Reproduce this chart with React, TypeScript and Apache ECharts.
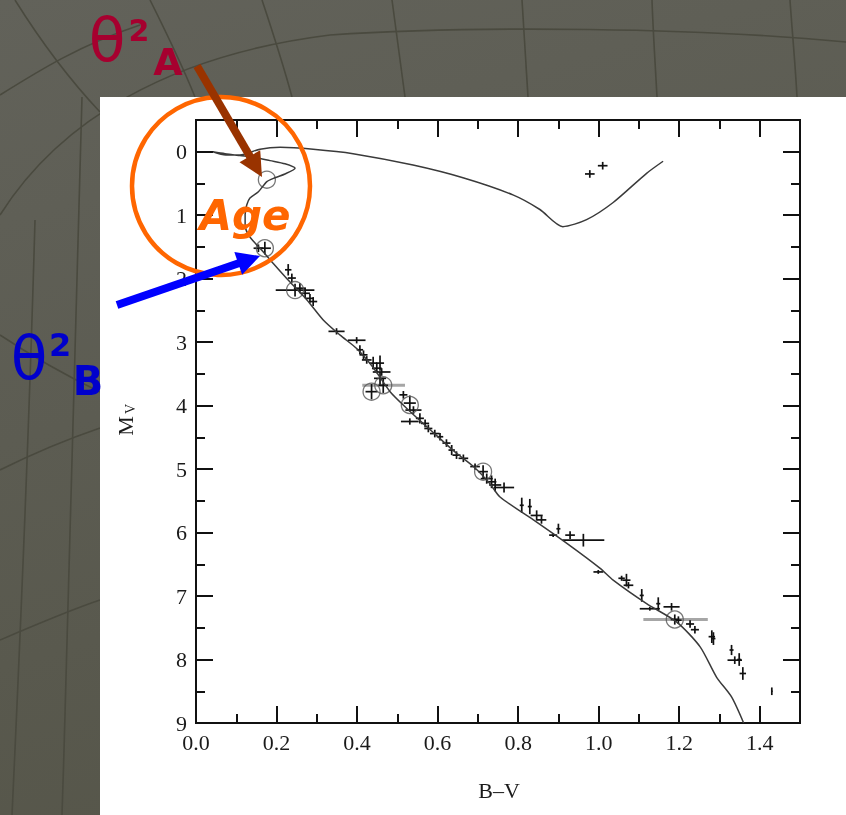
import React, { useEffect, useRef } from 'react';
import * as echarts from 'echarts';

// ---- axis ticks ----
const xMajorTicks = [0, 0.2, 0.4, 0.6, 0.8, 1.0, 1.2, 1.4];
const xMinorTicks = [0.1, 0.3, 0.5, 0.7, 0.9, 1.1, 1.3];
const yMajorTicks = [0, 1, 2, 3, 4, 5, 6, 7, 8, 9];
const yMinorTicks = [0.5, 1.5, 2.5, 3.5, 4.5, 5.5, 6.5, 7.5, 8.5];

// ---- isochrone (B-V, M_V) ----
const isoBV = [1.36, 1.33, 1.293, 1.252, 1.194, 1.119, 1.036, 1.003, 0.921, 0.838, 0.755, 0.73, 0.689, 0.647, 0.606, 0.564, 0.523, 0.482, 0.44, 0.399, 0.358, 0.316, 0.275, 0.233, 0.192, 0.159, 0.151, 0.13, 0.122, 0.122, 0.126, 0.134, 0.155, 0.176, 0.196, 0.221, 0.246, 0.221, 0.184, 0.147, 0.109, 0.072, 0.042, 0.074, 0.109, 0.159, 0.209, 0.291, 0.39, 0.539, 0.663, 0.787, 0.854, 0.911, 0.97, 1.036, 1.119, 1.16];
const isoMV = [9.0, 8.59, 8.28, 7.8, 7.41, 7.12, 6.75, 6.56, 6.17, 5.8, 5.44, 5.23, 4.96, 4.75, 4.52, 4.28, 4.04, 3.78, 3.4, 3.1, 2.89, 2.65, 2.33, 2.05, 1.76, 1.52, 1.47, 1.31, 1.15, 0.99, 0.84, 0.73, 0.63, 0.47, 0.41, 0.35, 0.26, 0.19, 0.14, 0.09, 0.06, 0.03, 0.0, 0.05, 0.05, -0.04, -0.07, -0.04, 0.03, 0.21, 0.41, 0.68, 0.91, 1.18, 1.07, 0.8, 0.34, 0.15];

// ---- stars with error bars ----
const starBV = [0.978, 1.01, 0.155, 0.171, 0.229, 0.238, 0.246, 0.258, 0.271, 0.283, 0.291, 0.349, 0.399, 0.407, 0.416, 0.424, 0.44, 0.457, 0.449, 0.461, 0.457, 0.436, 0.465, 0.515, 0.531, 0.54, 0.531, 0.556, 0.569, 0.577, 0.593, 0.606, 0.622, 0.635, 0.647, 0.664, 0.693, 0.713, 0.722, 0.734, 0.743, 0.765, 0.809, 0.829, 0.846, 0.858, 0.887, 0.9, 0.929, 0.962, 0.999, 1.057, 1.069, 1.074, 1.107, 1.127, 1.148, 1.181, 1.189, 1.198, 1.227, 1.239, 1.281, 1.285, 1.33, 1.338, 1.349, 1.358, 1.43];
const starMV = [0.35, 0.22, 1.52, 1.52, 1.86, 1.99, 2.18, 2.15, 2.23, 2.31, 2.36, 2.83, 2.97, 3.12, 3.2, 3.28, 3.33, 3.33, 3.41, 3.47, 3.57, 3.78, 3.68, 3.83, 3.96, 4.07, 4.25, 4.2, 4.28, 4.36, 4.44, 4.49, 4.59, 4.7, 4.78, 4.83, 4.96, 5.04, 5.15, 5.2, 5.25, 5.29, 5.57, 5.59, 5.73, 5.8, 6.04, 5.94, 6.04, 6.12, 6.62, 6.72, 6.75, 6.83, 6.99, 7.2, 7.12, 7.17, 7.37, 7.38, 7.44, 7.53, 7.64, 7.67, 7.85, 8.01, 8.0, 8.22, 8.5];
const starBVErr = [0.012, 0.012, 0.012, 0.015, 0.008, 0.01, 0.048, 0.015, 0.012, 0.01, 0.01, 0.02, 0.022, 0.008, 0.01, 0.012, 0.01, 0.01, 0.012, 0.022, 0.015, 0.015, 0.012, 0.01, 0.015, 0.02, 0.022, 0.01, 0.01, 0.01, 0.012, 0.008, 0.01, 0.008, 0.01, 0.012, 0.012, 0.012, 0.015, 0.012, 0.015, 0.025, 0.005, 0.005, 0.015, 0.012, 0.01, 0.005, 0.012, 0.052, 0.012, 0.008, 0.01, 0.012, 0.005, 0.025, 0.005, 0.02, 0.01, 0.008, 0.01, 0.01, 0.008, 0.005, 0.005, 0.018, 0.005, 0.008, 0.002];
const starMVErr = [0.06, 0.06, 0.06, 0.1, 0.09, 0.07, 0.1, 0.08, 0.08, 0.07, 0.07, 0.05, 0.05, 0.07, 0.07, 0.06, 0.1, 0.12, 0.08, 0.06, 0.1, 0.12, 0.12, 0.06, 0.12, 0.06, 0.05, 0.08, 0.06, 0.06, 0.06, 0.06, 0.06, 0.08, 0.06, 0.06, 0.05, 0.1, 0.08, 0.1, 0.1, 0.08, 0.12, 0.12, 0.08, 0.06, 0.03, 0.08, 0.06, 0.1, 0.03, 0.04, 0.1, 0.05, 0.1, 0.03, 0.1, 0.06, 0.08, 0.06, 0.06, 0.06, 0.1, 0.1, 0.08, 0.06, 0.1, 0.1, 0.06];

// ---- binary components (open circles) ----
const circleBV = [0.176, 0.171, 0.246, 0.436, 0.465, 0.531, 0.713, 1.189];
const circleMV = [0.44, 1.52, 2.18, 3.78, 3.68, 3.99, 5.04, 7.37];

// ---- grey error bars ----
const grayBV = [0.466, 1.191];
const grayMV = [3.68, 7.37];
const grayBVErr = [0.053, 0.08];

const SERIF = '"Liberation Serif", "Times New Roman", serif';
const SANS = '"DejaVu Sans", Verdana, sans-serif';

function arrow(x1: number, y1: number, x2: number, y2: number, w: number, hl: number, hw: number, color: string) {
  const dx = x2 - x1, dy = y2 - y1;
  const L = Math.hypot(dx, dy);
  const ux = dx / L, uy = dy / L, px = -uy, py = ux;
  const bx = x2 - ux * hl, by = y2 - uy * hl;
  return [
    { type: 'line', z: 100, shape: { x1, y1, x2: bx + ux * 2, y2: by + uy * 2 }, style: { stroke: color, lineWidth: w } },
    { type: 'polygon', z: 100, shape: { points: [[x2, y2], [bx + px * hw, by + py * hw], [bx - px * hw, by - py * hw]] }, style: { fill: color } },
  ];
}

function bez(x1: number, y1: number, c1x: number, c1y: number, c2x: number, c2y: number, x2: number, y2: number) {
  return {
    type: 'bezierCurve', z: -90, silent: true,
    shape: { x1, y1, cpx1: c1x, cpy1: c1y, cpx2: c2x, cpy2: c2y, x2, y2 },
    style: { stroke: '#4a4a3f', lineWidth: 1.6, fill: 'none' },
  };
}

export default function App() {
  const ref = useRef<HTMLDivElement>(null);
  useEffect(() => {
    if (!ref.current) return;
    const chart = echarts.init(ref.current, undefined, { renderer: 'svg' });

    const tickStyle = { color: '#111', width: 2 };
    const mkX = (pos: string, ticks: number[], len: number, labels: boolean) => ({
      type: 'value', min: 0, max: 1.5, position: pos, gridIndex: 0,
      axisLine: { show: true, onZero: false, lineStyle: tickStyle },
      axisTick: { show: true, inside: true, length: len, customValues: ticks, lineStyle: tickStyle },
      axisLabel: {
        show: labels, customValues: xMajorTicks, formatter: (v: number) => v.toFixed(1),
        fontFamily: SERIF, fontSize: 22, color: '#1a1a1a', margin: 8,
      },
      splitLine: { show: false },
    });
    const mkY = (pos: string, ticks: number[], len: number, labels: boolean) => ({
      type: 'value', min: -0.5, max: 9, inverse: true, position: pos, gridIndex: 0,
      axisLine: { show: true, onZero: false, lineStyle: tickStyle },
      axisTick: { show: true, inside: true, length: len, customValues: ticks, lineStyle: tickStyle },
      axisLabel: {
        show: labels, customValues: yMajorTicks, formatter: (v: number) => String(v),
        fontFamily: SERIF, fontSize: 22, color: '#1a1a1a', margin: 9,
      },
      splitLine: { show: false },
    });

    const crossRender = (stroke: string, lw: number) => (params: any, api: any) => {
      const x = api.value(0), y = api.value(1), xe = api.value(2), ye = api.value(3);
      const l = api.coord([x - xe, y]), r = api.coord([x + xe, y]);
      const children: any[] = [
        { type: 'line', shape: { x1: l[0], y1: l[1], x2: r[0], y2: r[1] }, style: { stroke, lineWidth: lw } },
      ];
      if (ye > 0) {
        const t = api.coord([x, y - ye]), b = api.coord([x, y + ye]);
        children.push({ type: 'line', shape: { x1: t[0], y1: t[1], x2: b[0], y2: b[1] }, style: { stroke, lineWidth: lw } });
      }
      return { type: 'group', children };
    };

    const graphics: any[] = [
      {
        type: 'rect', z: -100, silent: true, shape: { x: 0, y: 0, width: 846, height: 815 },
        style: {
          fill: new echarts.graphic.LinearGradient(0, 0, 0.3, 1, [
            { offset: 0, color: '#62625a' },
            { offset: 1, color: '#56564a' },
          ]),
        },
      },
      bez(0, 215, 60, 120, 170, 55, 330, 35),
      bez(330, 35, 480, 25, 700, 28, 846, 42),
      bez(0, 95, 40, 70, 80, 45, 140, 25),
      bez(15, 0, 40, 40, 70, 80, 100, 112),
      bez(150, 0, 165, 30, 180, 60, 195, 97),
      bez(262, 0, 272, 30, 282, 60, 292, 97),
      bez(392, 0, 396, 30, 400, 60, 405, 97),
      bez(522, 0, 524, 30, 526, 60, 528, 97),
      bez(652, 0, 653, 30, 655, 60, 657, 97),
      bez(790, 0, 792, 30, 795, 60, 797, 97),
      bez(0, 335, 30, 355, 65, 375, 100, 392),
      bez(0, 470, 30, 455, 65, 440, 100, 428),
      bez(0, 640, 35, 625, 70, 610, 100, 600),
      bez(82, 97, 78, 300, 70, 560, 62, 815),
      bez(35, 220, 30, 400, 22, 600, 12, 815),
      {
        type: 'rect', z: -80, silent: true, shape: { x: 100, y: 97, width: 746, height: 718 },
        style: { fill: '#ffffff' },
      },
      // axis titles
      {
        type: 'text', z: 50, x: 499, y: 790,
        style: { text: 'B–V', font: `22px ${SERIF}`, fill: '#1a1a1a', align: 'center', verticalAlign: 'middle' },
      },
      {
        type: 'text', z: 50, x: 125, y: 426, rotation: Math.PI / 2,
        style: { text: 'M', font: `22px ${SERIF}`, fill: '#1a1a1a', align: 'center', verticalAlign: 'middle' },
      },
      {
        type: 'text', z: 50, x: 130, y: 409, rotation: Math.PI / 2,
        style: { text: 'V', font: `14px ${SERIF}`, fill: '#1a1a1a', align: 'center', verticalAlign: 'middle' },
      },
      // annotation circle
      {
        type: 'circle', z: 100, shape: { cx: 221, cy: 186, r: 89 },
        style: { fill: 'none', stroke: '#ff6600', lineWidth: 4.5 },
      },
      {
        type: 'text', z: 101, x: 245, y: 215,
        style: { text: 'Age', font: `italic bold 42px ${SANS}`, fill: '#ff6600', align: 'center', verticalAlign: 'middle' },
      },
      ...arrow(197, 66, 262, 177, 8, 24, 12, '#993300'),
      ...arrow(117, 305, 260, 256, 8, 23, 12, '#0000ff'),
      // theta^2_A
      { type: 'text', z: 101, x: 107, y: 40, style: { text: 'θ', font: `60px ${SANS}`, fill: '#a6002f', align: 'center', verticalAlign: 'middle' } },
      { type: 'text', z: 101, x: 139, y: 30, style: { text: '2', font: `bold 30px ${SANS}`, fill: '#a6002f', align: 'center', verticalAlign: 'middle' } },
      { type: 'text', z: 101, x: 168, y: 62, style: { text: 'A', font: `bold 38px ${SANS}`, fill: '#a6002f', align: 'center', verticalAlign: 'middle' } },
      // theta^2_B
      { type: 'text', z: 101, x: 29, y: 358, style: { text: 'θ', font: `60px ${SANS}`, fill: '#0000cc', align: 'center', verticalAlign: 'middle' } },
      { type: 'text', z: 101, x: 60, y: 345, style: { text: '2', font: `bold 32px ${SANS}`, fill: '#0000cc', align: 'center', verticalAlign: 'middle' } },
      { type: 'text', z: 101, x: 88, y: 381, style: { text: 'B', font: `bold 40px ${SANS}`, fill: '#0000cc', align: 'center', verticalAlign: 'middle' } },
    ];

    chart.setOption({
      animation: false,
      grid: { left: 196, right: 46, top: 120, bottom: 92, containLabel: false },
      xAxis: [
        mkX('bottom', xMajorTicks, 17, true),
        mkX('bottom', xMinorTicks, 9, false),
        mkX('top', xMajorTicks, 17, false),
        mkX('top', xMinorTicks, 9, false),
      ],
      yAxis: [
        mkY('left', yMajorTicks, 17, true),
        mkY('left', yMinorTicks, 9, false),
        mkY('right', yMajorTicks, 17, false),
        mkY('right', yMinorTicks, 9, false),
      ],
      graphic: graphics,
      series: [
        {
          type: 'line', xAxisIndex: 0, yAxisIndex: 0, showSymbol: false, smooth: 0.25,
          data: isoBV.map((x, i) => [x, isoMV[i]]),
          lineStyle: { color: '#3a3a3a', width: 1.5 },
          silent: true,
        },
        {
          type: 'custom', xAxisIndex: 0, yAxisIndex: 0,
          renderItem: crossRender('#a6a6a6', 3),
          data: grayBV.map((x, i) => [x, grayMV[i], grayBVErr[i], 0]),
          encode: { x: 0, y: 1 },
          silent: true,
        },
        {
          type: 'scatter', xAxisIndex: 0, yAxisIndex: 0, symbol: 'circle', symbolSize: 17,
          data: circleBV.map((x, i) => [x, circleMV[i]]),
          itemStyle: { color: 'rgba(0,0,0,0)', borderColor: '#555', borderWidth: 1.3 },
          silent: true,
        },
        {
          type: 'custom', xAxisIndex: 0, yAxisIndex: 0,
          renderItem: crossRender('#111111', 1.7),
          data: starBV.map((x, i) => [x, starMV[i], starBVErr[i], starMVErr[i]]),
          encode: { x: 0, y: 1 },
          silent: true,
        },
      ],
    });
    return () => chart.dispose();
  }, []);

  return <div ref={ref} style={{ position: 'fixed', left: 0, top: 0, width: 846, height: 815 }} />;
}
